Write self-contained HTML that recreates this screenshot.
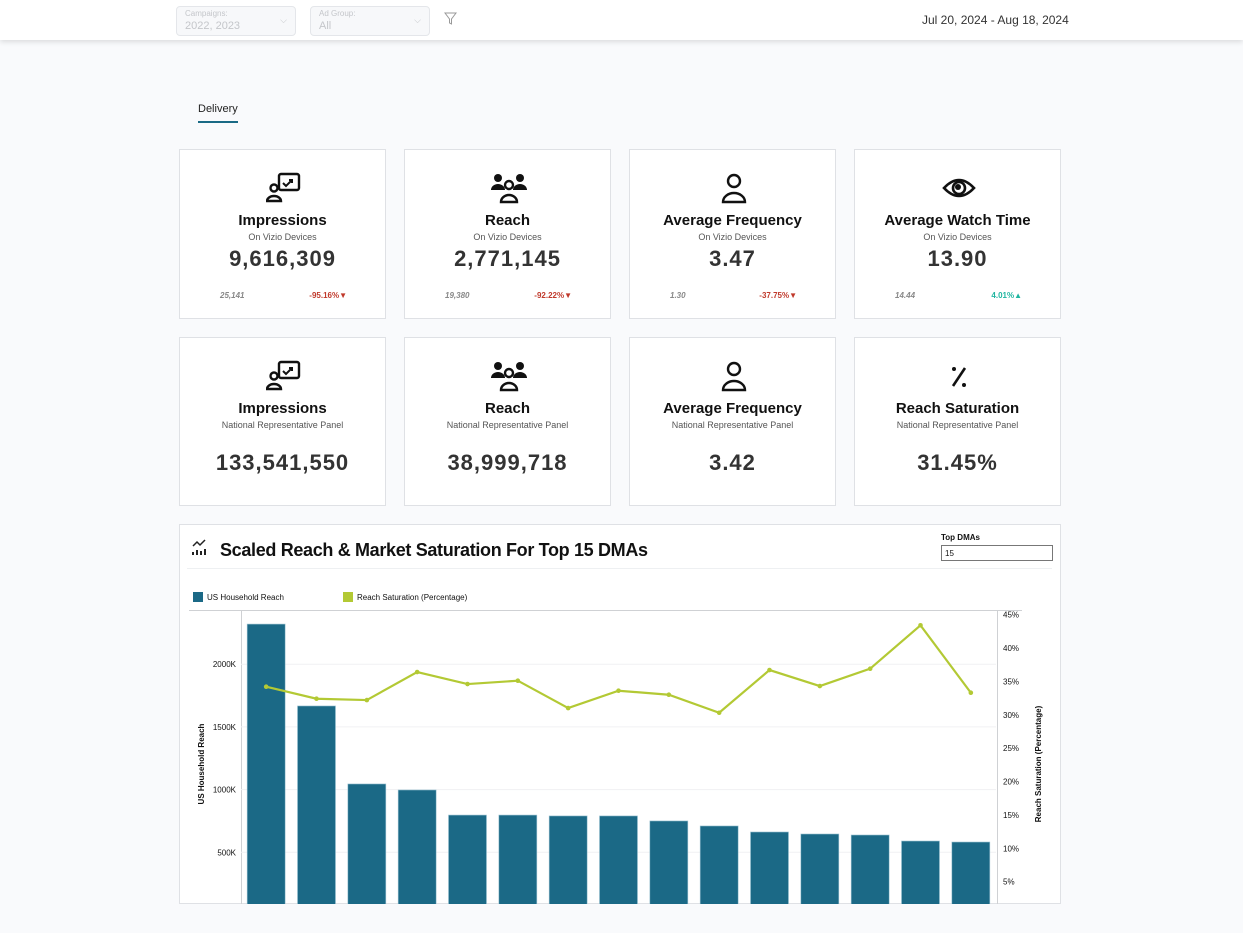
<!DOCTYPE html>
<html><head><meta charset="utf-8">
<style>
*{box-sizing:border-box;margin:0;padding:0}
body{width:1243px;height:933px;background:#f9fafc;font-family:"Liberation Sans",sans-serif;position:relative;overflow:hidden;color:#111}
.top{position:absolute;left:0;top:0;width:1243px;height:40px;background:#fff;box-shadow:0 2px 5px rgba(0,0,0,.12)}
.sel{position:absolute;top:6px;height:30px;border:1px solid #e4e6ea;border-radius:4px;background:#f7f8fa;color:#c4c6ca}
.sel .l{position:absolute;left:8px;top:2px;font-size:8px}
.sel .v{position:absolute;left:8px;top:13px;font-size:11px}
.sel .c{position:absolute;right:8px;top:8px;font-size:9px}
.card{position:absolute;background:#fff;border:1px solid #dfe1e5;text-align:center}
.card .ic{position:absolute;left:0;right:0;top:18px;height:36px}
.card .t{position:absolute;left:0;right:0;top:62px;font-size:15px;font-weight:bold;color:#111}
.card .s{position:absolute;left:0;right:0;top:82px;font-size:9px;color:#555}
.card .n{position:absolute;left:0;right:0;top:96px;font-size:22px;font-weight:bold;color:#333;letter-spacing:1px}
.card .n2{top:112px}
.card .p{position:absolute;left:40px;top:141px;font-size:8px;font-style:italic;font-weight:bold;color:#888}
.card .d{position:absolute;right:38px;top:141px;font-size:8px;font-weight:bold;color:#c0392b}
</style></head><body>
<div class="top">
 <div class="sel" style="left:176px;width:120px"><span class="l">Campaigns:</span><span class="v">2022, 2023</span><span class="c">⌵</span></div>
 <div class="sel" style="left:310px;width:120px"><span class="l">Ad Group:</span><span class="v">All</span><span class="c">⌵</span></div>
 <svg style="position:absolute;left:444px;top:12px" width="13" height="13"><path d="M1 1h11L7.5 7v5L5.5 11V7z" fill="none" stroke="#999" stroke-width="1"/></svg>
 <div style="position:absolute;left:922px;top:13px;font-size:12px;color:#333">Jul 20, 2024 - Aug 18, 2024</div>
</div>
<div style="position:absolute;left:198px;top:103px;font-size:11px;color:#222">Delivery</div>
<div style="position:absolute;left:198px;top:121px;width:40px;height:2px;background:#1a6a85"></div>

<div id="cards"></div>

<div class="card" style="left:179px;top:524px;width:882px;height:380px;text-align:left">
<svg id="chart" width="882" height="380" style="position:absolute;left:-1px;top:-1px"></svg>
</div>

<script>
const cardDefs=[
 ["Impressions","On Vizio Devices","9,616,309","25,141","-95.16%▼","imp"],
 ["Reach","On Vizio Devices","2,771,145","19,380","-92.22%▼","reach"],
 ["Average Frequency","On Vizio Devices","3.47","1.30","-37.75%▼","person"],
 ["Average Watch Time","On Vizio Devices","13.90","14.44","4.01%▲","eye"],
 ["Impressions","National Representative Panel","133,541,550","","","imp"],
 ["Reach","National Representative Panel","38,999,718","","","reach"],
 ["Average Frequency","National Representative Panel","3.42","","","person"],
 ["Reach Saturation","National Representative Panel","31.45%","","","pct"]];
const icons={
 imp:'<rect x="13" y="2" width="20" height="16" rx="2" fill="none" stroke="#111" stroke-width="2.4"/><path d="M17 11l3 3 6-6M23 8h3v3" fill="none" stroke="#111" stroke-width="2"/><circle cx="8" cy="16" r="3.5" fill="#fff" stroke="#111" stroke-width="2.4"/><path d="M1 29a7 5 0 0 1 14 0z" fill="none" stroke="#111" stroke-width="2.4"/>',
 reach:'<circle cx="7" cy="6" r="4" fill="#111"/><circle cx="29" cy="6" r="4" fill="#111"/><path d="M0 18a7 6 0 0 1 14 0zM22 18a7 6 0 0 1 14 0z" fill="#111"/><circle cx="18" cy="13" r="4" fill="#fff" stroke="#111" stroke-width="2.4"/><path d="M10 30a8 7 0 0 1 16 0z" fill="#fff" stroke="#111" stroke-width="2.4"/>',
 person:'<circle cx="18" cy="9" r="6" fill="none" stroke="#111" stroke-width="2.4"/><path d="M7 30a11 9 0 0 1 22 0z" fill="none" stroke="#111" stroke-width="2.4"/>',
 eye:'<path d="M3 16Q18 0 33 16Q18 32 3 16z" fill="none" stroke="#111" stroke-width="2.6"/><circle cx="18" cy="16" r="6" fill="none" stroke="#111" stroke-width="2.6"/><circle cx="17" cy="15" r="3" fill="#111"/>',
 pct:'<path d="M24 8L12 26" stroke="#111" stroke-width="2.6"/><circle cx="13" cy="9" r="2" fill="#111"/><circle cx="23" cy="25" r="2" fill="#111"/>'};
const cx=[179,404,629,854];
let h='';
cardDefs.forEach((c,i)=>{
 const x=cx[i%4],y=i<4?149:337,ht=i<4?170:169;
 h+=`<div class="card" style="left:${x}px;top:${y}px;width:207px;height:${ht}px">
 <svg class="ic" viewBox="0 0 36 32" width="36" height="32" style="left:86px;top:20px">${icons[c[5]]}</svg>
 <div class="t">${c[0]}</div>
 <div class="s">${c[1]}</div>
 <div class="n ${i>=4?'n2':''}">${c[2]}</div>
 ${c[3]?`<div class="p">${c[3]}</div><div class="d" style="${c[4].includes('▲')?'color:#1fb5a0':''}">${c[4]}</div>`:''}
 </div>`;
});
document.getElementById('cards').innerHTML=h;
</script>

<script>
const categories=["DMA 1","DMA 2","DMA 3","DMA 4","DMA 5","DMA 6","DMA 7","DMA 8","DMA 9","DMA 10","DMA 11","DMA 12","DMA 13","DMA 14","DMA 15"];
const reachValues=[2320,1667,1045,997,797,797,790,790,750,710,662,646,638,590,582];
const saturationValues=[34.2,32.4,32.2,36.4,34.6,35.1,31.0,33.6,33.0,30.3,36.7,34.3,36.9,43.4,33.3];
const leftTicks=[500,1000,1500,2000];
const leftTickLabels=["500K","1000K","1500K","2000K"];
const rightTicks=[5,10,15,20,25,30,35,40,45];
const rightTickLabels=["5%","10%","15%","20%","25%","30%","35%","40%","45%"];

const svg=document.getElementById('chart');
const NS='http://www.w3.org/2000/svg';
const X0=241-179,X1=996-179,Y0=915-524;
const yL=v=>Y0-v*0.1254;
const yR=v=>Y0-v*6.675;
const band=(X1-X0)/categories.length;
const xC=i=>X0+band*(i+0.5);
function el(t,a,txt){const e=document.createElementNS(NS,t);for(const k in a)e.setAttribute(k,a[k]);if(txt!==undefined)e.textContent=txt;svg.appendChild(e);return e;}

let e;
e=el('path',{d:'M14 22l4-4 3 3 5-5',fill:'none',stroke:'#222','stroke-width':1.5});


e=el('path',{d:'M14 31v-3M18 31v-5M22 31v-4M26 31v-6',stroke:'#222','stroke-width':2});


e=el('text',{x:41,y:32,'font-size':18,'font-weight':'bold',fill:'#111',textLength:428},'Scaled Reach & Market Saturation For Top 15 DMAs');


e=el('text',{x:762,y:16,'font-size':8,'font-weight':'bold',fill:'#111'},'Top DMAs');


e=el('rect',{x:762.5,y:21.5,width:111,height:15,fill:'#fff',stroke:'#777'});


e=el('text',{x:766,y:32,'font-size':8,fill:'#111'},'15');


e=el('line',{x1:8,x2:873,y1:44.5,y2:44.5,stroke:'#eef0f2'});


e=el('rect',{x:14,y:68,width:10,height:10,fill:'#1b6986'});


e=el('text',{x:28,y:76,'font-size':8,fill:'#111'},'US Household Reach');


e=el('rect',{x:164,y:68,width:10,height:10,fill:'#b3c934'});


e=el('text',{x:178,y:76,'font-size':8,fill:'#111'},'Reach Saturation (Percentage)');


e=el('line',{x1:10,x2:X1+26,y1:86.5,y2:86.5,stroke:'#cfd1d4'});


e=el('line',{x1:X0+0.5,x2:X0+0.5,y1:86,y2:380,stroke:'#cfd1d4'});


e=el('line',{x1:X1+1.5,x2:X1+1.5,y1:86,y2:380,stroke:'#cfd1d4'});


leftTicks.forEach((v,i)=>{
 const g=el('line',{x1:X0,x2:X1,y1:yL(v),y2:yL(v),stroke:'#f0f1f3'});
 
 
 const t=el('text',{x:X0-5,y:yL(v)+3,'font-size':8,'text-anchor':'end',fill:'#111'},leftTickLabels[i]);
 
 
});
rightTicks.forEach((v,i)=>{
 const t=el('text',{x:X1+7,y:yR(v)+3,'font-size':8,fill:'#111'},rightTickLabels[i]);
 
 
});
e=el('text',{x:0,y:0,'font-size':8,'font-weight':'bold','text-anchor':'middle',fill:'#111',transform:'translate(25,240) rotate(-90)'},'US Household Reach');


e=el('text',{x:0,y:0,'font-size':8,'font-weight':'bold','text-anchor':'middle',fill:'#111',transform:'translate(862,240) rotate(-90)'},'Reach Saturation (Percentage)');


const bw=38;
reachValues.forEach((v,i)=>{
 const b=el('rect',{x:xC(i)-bw/2,y:yL(v),width:bw,height:Y0-yL(v),fill:'#1b6986',stroke:'#9cc3d2','stroke-width':0.6});
 
 
});
const pts=saturationValues.map((v,i)=>xC(i)+','+yR(v)).join(' ');
e=el('polyline',{points:pts,fill:'none',stroke:'#b3c934','stroke-width':2.2});


saturationValues.forEach((v,i)=>{
 const c=el('circle',{cx:xC(i),cy:yR(v),r:2.3,fill:'#b3c934'});
 
 
});
</script>
</body></html>
